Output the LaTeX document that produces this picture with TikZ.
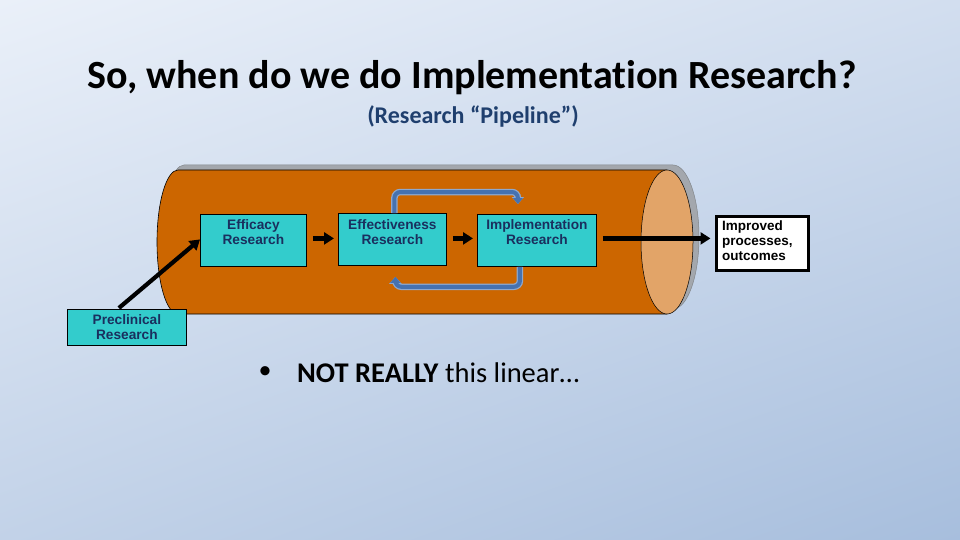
\documentclass[tikz,border=0pt]{standalone}
\usepackage{fontspec}
\setmainfont{Carlito}[Ligatures=NoCommon]
\newfontfamily\arialf{Liberation Sans}
\usetikzlibrary{arrows.meta,calc,shadings}
\definecolor{bgA}{HTML}{EAF0F9}
\definecolor{bgB}{HTML}{D2DEEF}
\definecolor{bgC}{HTML}{C2D2E8}
\definecolor{bgD}{HTML}{A7BEDD}
\definecolor{cyanbox}{HTML}{33CCCC}
\definecolor{navytext}{HTML}{1A2F5E}
\definecolor{pipeor}{HTML}{CC6600}
\definecolor{pipetan}{HTML}{E2A468}
\definecolor{pipegrey}{HTML}{A3A7AD}
\definecolor{loopin}{HTML}{4672B0}
\definecolor{loopout}{HTML}{8EA8CE}
\definecolor{subblue}{HTML}{1F3F6E}
\tikzset{
  cbox/.style={draw=black, line width=0.8pt, fill=cyanbox, inner sep=0pt, anchor=north west},
  btext/.style={font=\arialf\bfseries\fontsize{13.7}{15.5}\selectfont, text=navytext, align=center, inner sep=0pt, anchor=north},
  flowarr/.style={line width=4.2pt, -{Triangle[length=10pt,width=12pt]}},
  looparr/.style={line width=4pt, draw=loopin, rounded corners=6pt, -{Triangle[length=6pt,width=10pt]},
     preaction={draw=loopout, line width=6.5pt, -{Triangle[length=7pt,width=12pt]}}}
}
\begin{document}
\begin{tikzpicture}[x=1pt,y=-1pt]
\useasboundingbox (0,0) rectangle (960,540);
\shade[upper left=bgA, upper right=bgB, lower left=bgC, lower right=bgD] (0,0) rectangle (960,540);

% titles
\node[font=\bfseries\fontsize{40}{44}\selectfont, text=black] (title) at (472,78) {So, when do we do Implementation Research?};
\node[font=\bfseries\fontsize{24}{28}\selectfont, text=subblue] (subtitle) at (473,116) {(Research “Pipeline”)};

% pipe: grey shadow
\begin{scope}[shift={(6,-5)}]
\fill[pipegrey, draw=pipegrey!80!black, line width=0.5pt]
  (178,170) -- (667,170) arc[start angle=90, end angle=-90, x radius=26pt, y radius=72pt]
  -- (178,314) arc[start angle=270, end angle=90, x radius=21pt, y radius=72pt] -- cycle;
\end{scope}
% pipe body
\filldraw[fill=pipeor, draw=black, line width=0.6pt]
  (178,170) -- (667,170) -- (667,314) -- (178,314)
  arc[start angle=270, end angle=90, x radius=21pt, y radius=72pt] -- cycle;
\filldraw[fill=pipetan, draw=black, line width=0.5pt] (667,242) ellipse[x radius=26pt, y radius=72pt];

% boxes
\node[cbox, minimum width=106pt, minimum height=52pt] (eff) at (200,214) {};
\node[btext] (efft) at ($(eff.north)+(0,5)$) {Efficacy\\Research};
\node[cbox, minimum width=108pt, minimum height=52pt] (effv) at (338,213) {};
\node[btext] (effvt) at ($(effv.north)+(0,6)$) {Effectiveness\\Research};
\node[cbox, minimum width=119pt, minimum height=52pt] (impl) at (477,214) {};
\node[btext] (implt) at ($(impl.north)+(0,5)$) {Implementation\\Research};
\node[cbox, minimum width=119pt, minimum height=36pt] (pre) at (67,309) {};
\node[btext] (pret) at ($(pre.north)+(0,5)$) {Preclinical\\Research};
\node[draw=black, line width=3pt, fill=white, minimum width=92pt, minimum height=54pt, inner sep=0pt, anchor=north west] (out) at (714.5,214.5) {};
\node[btext, text=black, align=left, anchor=north west, font=\arialf\bfseries\fontsize{13.5}{15}\selectfont] (outt) at (722,221) {Improved\\processes,\\outcomes};

% flow arrows
\draw[flowarr, shorten <=6pt, shorten >=4pt] ([yshift=2pt]eff.east) coordinate (a1) -- (a1 -| effv.west);
\draw[flowarr, shorten <=6pt, shorten >=4pt] ([yshift=1pt]effv.east) coordinate (a2) -- (a2 -| impl.west);
\draw[flowarr, shorten <=6pt, shorten >=4pt] ([yshift=2pt]impl.east) coordinate (a3) -- (a3 -| out.west);
\draw[flowarr] ([xshift=-8pt,yshift=1pt]pre.north) -- ([yshift=1pt]eff.west);

% feedback loops
\draw[looparr] ([xshift=2pt]effv.north) -- ++(0,-21) -| ([xshift=-19pt,yshift=10pt]impl.north);
\draw[looparr] ([xshift=-17pt]impl.south) -- ++(0,20) -| ([xshift=3pt,yshift=-11pt]effv.south);

% bullet
\node[font=\fontsize{26}{30}\selectfont, text=black] (bul) at (265,373) {•};
\node[font=\fontsize{28.5}{32}\selectfont, text=black, anchor=west, inner sep=0pt] (note) at (297,373) {\textbf{NOT REALLY} this linear…};
\end{tikzpicture}
\end{document}
